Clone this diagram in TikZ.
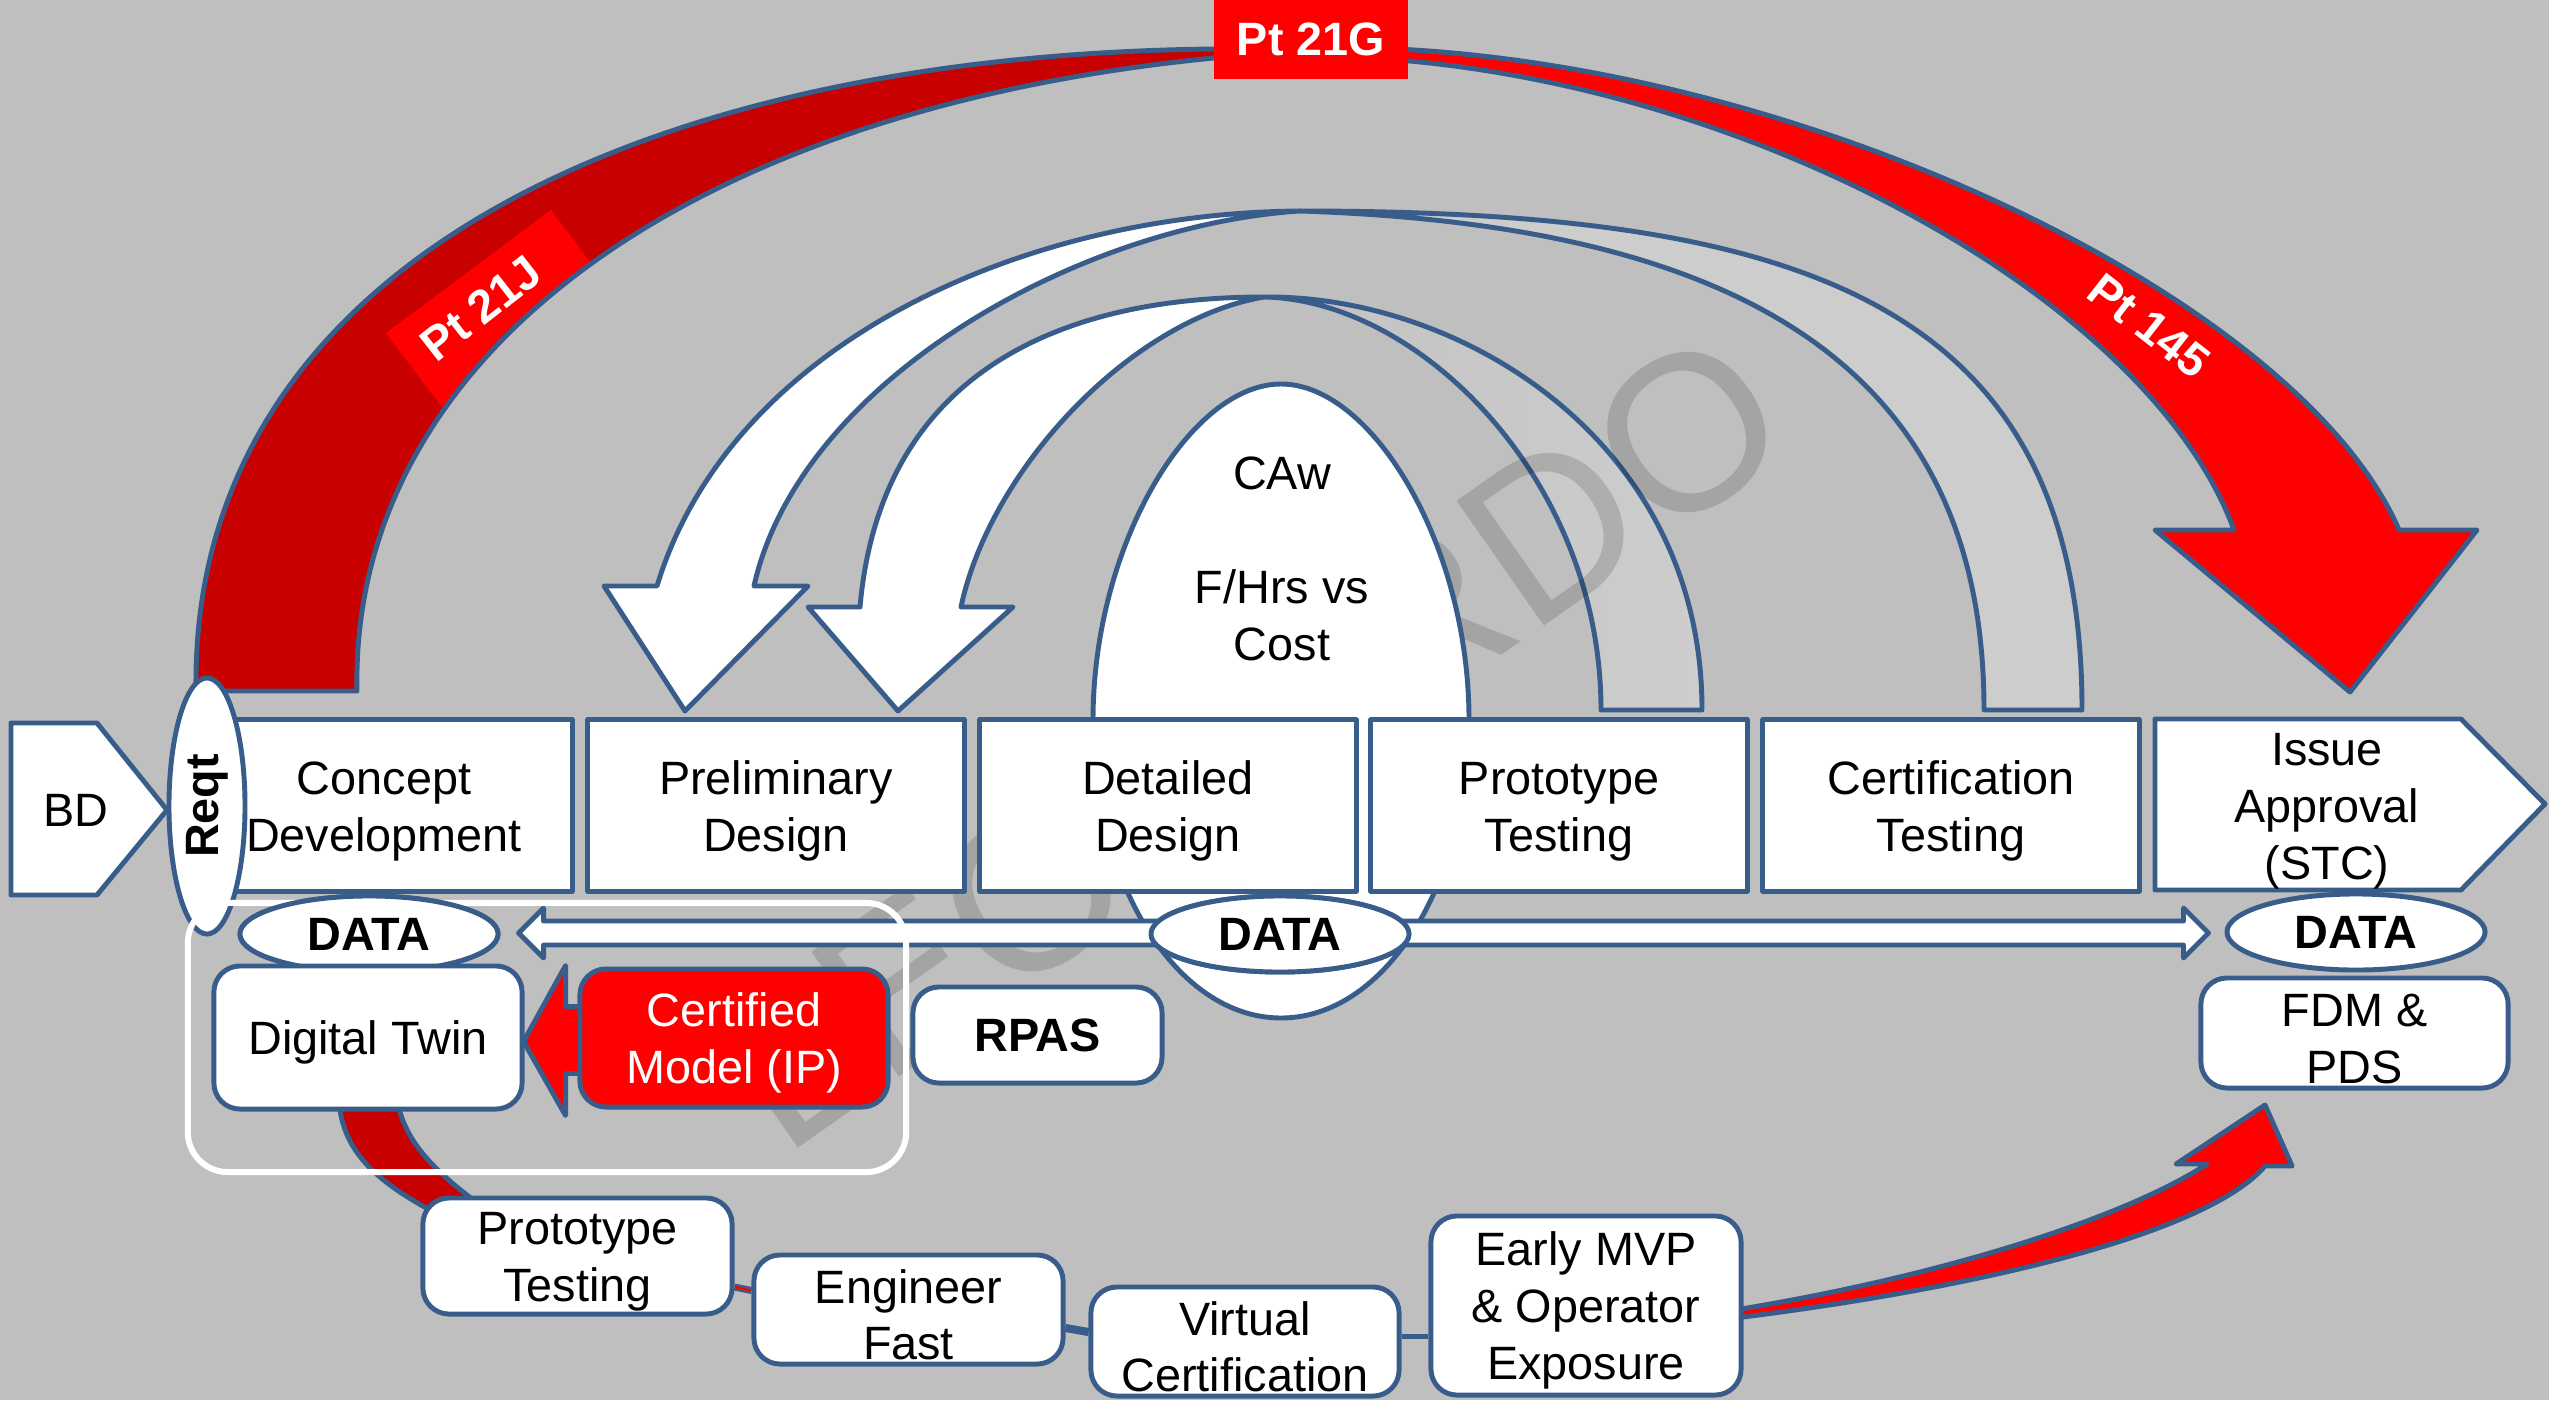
\documentclass[tikz,border=0pt]{standalone}
\usepackage{fontspec}
\setmainfont{Liberation Sans}
\usetikzlibrary{shapes.geometric,calc}
\definecolor{bgc}{HTML}{BFBFBF}
\definecolor{ln}{HTML}{385D8A}
\definecolor{dred}{HTML}{C80000}
\definecolor{bred}{HTML}{FF0000}
\definecolor{lgray}{HTML}{CDCDCD}
\definecolor{mgray}{HTML}{C2C2C2}
\newcommand\mystrut{\rule{0pt}{0.95em}}
\begin{document}
\begin{tikzpicture}[x=0.01cm,y=-0.01cm,
  every node/.style={font=\fontsize{13.3}{16.2}\selectfont},
  txt/.style={align=center, inner sep=0pt},
  bfont/.style={font=\fontsize{13.3}{16.2}\selectfont\bfseries},
  outl/.style={draw=ln, line width=1.4pt, line join=round},
  box/.style={txt, outl, fill=white},
  rbox/.style={box, rounded corners=0.26cm},
  dataell/.style={ellipse, outl, fill=white, inner sep=0pt, minimum width=2.58cm, minimum height=0.76cm, bfont}]

\useasboundingbox (0,0) rectangle (2549,1400);
\fill[bgc] (0,0) rectangle (2549,1400);

% ---- big red arc (Pt 21J / Pt 21G / Pt 145)
\def\bandL{(196,691) .. controls (190,260) and (650,55) .. (1214,49) -- (1260,48) -- (1260,57) -- (1214,58) .. controls (680,110) and (350,360) .. (357,691) -- cycle}
\fill[dred] \bandL;
\begin{scope}
\clip \bandL;
\fill[bred] (386,333) -- (551,210) -- (615,295) -- (450,418) -- cycle;
\end{scope}
\draw[outl] \bandL;
\draw[outl, fill=bred] (1370,48) .. controls (1800,60) and (2300,300) .. (2399,530) -- (2477,530) -- (2350,692) -- (2155,530) -- (2234,530) .. controls (2150,300) and (1750,80) .. (1370,58) -- cycle;
\node[fill=bred, minimum width=1.94cm, minimum height=0.79cm, inner sep=0pt, text=white, bfont] (pt21g) at (1311,39.5) {Pt 21G};
\node[text=white, bfont, rotate=38, inner sep=0pt] (pt21j) at (481,308) {Pt 21J};
\node[text=white, bfont, rotate=-38, inner sep=0pt] (pt145) at (2149,326) {Pt 145};

% ---- loop arrows
\draw[outl, fill=lgray] (2082,710) .. controls (2082,300) and (1800,211) .. (1300,211) .. controls (1730,225) and (1984,360) .. (1984,710) -- cycle;
\draw[outl, fill=white] (1300,211) .. controls (1020,213) and (730,345) .. (657,586) -- (604,586) -- (685,711) -- (808,586) -- (754,586) .. controls (800,380) and (1080,225) .. (1300,211) -- cycle;
\draw[outl, left color=mgray, right color=lgray] (1702,710) .. controls (1702,440) and (1460,295) .. (1264,297) .. controls (1420,300) and (1601,480) .. (1601,710) -- cycle;
\draw[outl, fill=white] (1264,297) .. controls (1050,297) and (880,380) .. (860,607) -- (808,607) -- (898,711) -- (1013,607) -- (961,607) .. controls (990,470) and (1130,320) .. (1264,297) -- cycle;

% ---- watermark
\node[rotate=35, anchor=base west, inner sep=0pt, text=black, text opacity=0.14, font=\fontsize{63}{63}\selectfont] (wm) at (783,1159) {LEONARDO};

% ---- CAw ellipse
\draw[outl, fill=white] (1093,720) .. controls (1093,545) and (1190,384) .. (1281,384) .. controls (1372,384) and (1469,545) .. (1469,720) .. controls (1469,884) and (1385,1018) .. (1281,1018) .. controls (1177,1018) and (1093,884) .. (1093,720) -- cycle;
\node[anchor=base] (caw) at (1282,489) {CAw};
\node[anchor=base] (fhrs) at (1282,603) {F/Hrs vs};
\node[anchor=base] (cost) at (1282,660) {Cost};

% ---- dark red band under the twin
\draw[outl, fill=dred] (339,1100) .. controls (342,1150) and (375,1180) .. (430,1210) -- (480,1205) .. controls (440,1175) and (405,1145) .. (397,1100) -- cycle;

% ---- main row
\draw[outl, fill=white] (11,723) -- (97,723) -- (167,810) -- (97,895) -- (11,895) -- cycle;
\node[txt] (bd) at (76,810) {BD};
\node[box, minimum width=3.76cm, minimum height=1.71cm] (concept) at (384,805.5) {\mystrut Concept\\Development};
\node[box, minimum width=3.76cm, minimum height=1.71cm] (prelim) at (776,805.5) {\mystrut Preliminary\\Design};
\node[box, minimum width=3.76cm, minimum height=1.71cm] (detail) at (1168,805.5) {\mystrut Detailed\\Design};
\node[box, minimum width=3.76cm, minimum height=1.71cm] (protot) at (1559,805.5) {\mystrut Prototype\\Testing};
\node[box, minimum width=3.76cm, minimum height=1.71cm] (certt) at (1951,805.5) {\mystrut Certification\\Testing};
\draw[outl, fill=white] (2155,719) -- (2461,719) -- (2545,804) -- (2461,890) -- (2155,890) -- cycle;
\node[txt] (issue) at (2327,805) {\mystrut Issue\\Approval\\(STC)};
\node[ellipse, rotate=90, outl, fill=white, minimum width=2.56cm, minimum height=0.76cm, inner sep=0pt, bfont] (reqt) at (207,806) {Reqt};

% ---- data ellipses and double arrow
\node[dataell] (dataL) at (369,934) {DATA};
\node[dataell] (dataM) at (1280,934) {DATA};
\node[dataell] (dataR) at (2356,932) {DATA};
\coordinate (tipL) at ($(dataL.east)+(18,-1)$);
\coordinate (tipR) at ($(dataR.west)+(-16,1)$);
\draw[outl, fill=white] (tipL) -- ++(25,-25) -- ++(0,13) -- ($(tipR)+(-25,-12)$) -- ++(0,-13) -- (tipR) -- ++(-25,25) -- ++(0,-13) -- ($(tipL)+(25,12)$) -- ++(0,13) -- cycle;
\node[draw=white, line width=1.7pt, rounded corners=0.4cm, minimum width=7.18cm, minimum height=2.69cm, inner sep=0pt] (grp) at (547,1037.5) {};
\node[dataell] at (dataL) {DATA};
\node[dataell] at (dataM) {DATA};

% ---- twin, certified model, RPAS, FDM
\node[rbox, minimum width=3.08cm, minimum height=1.43cm] (dt) at (368,1037.5) {\mystrut Digital Twin};
\draw[outl, fill=bred] ($(dt.east)+(-1,4)$) -- ++(42,-76) -- ++(0,41) -- ++(40,0) -- ++(0,67) -- ++(-40,0) -- ++(0,42) -- cycle;
\node[rbox, fill=bred, text=white, minimum width=3.08cm, minimum height=1.38cm] (cert) at (734,1038) {\mystrut Certified\\Model (IP)};
\node[rbox, bfont, minimum width=2.49cm, minimum height=0.96cm] (rpas) at (1037.5,1035) {RPAS};
\node[rbox, minimum width=3.07cm, minimum height=1.10cm] (fdm) at (2354.5,1033) {\mystrut FDM \&\\PDS};

% ---- bottom chain
\node[rbox, minimum width=3.09cm, minimum height=1.16cm] (ptb) at (577.5,1256) {\mystrut Prototype\\Testing};
\node[rbox, minimum width=3.09cm, minimum height=1.09cm] (efast) at (908.5,1309.5) {\mystrut Engineer\\Fast};
\node[rbox, minimum width=3.08cm, minimum height=1.09cm] (virt) at (1245,1341.5) {\mystrut Virtual\\Certification};
\draw[outl, fill=bred] (1735,1310) .. controls (1950,1275) and (2130,1215) .. (2207,1164) -- (2176,1164) -- (2265,1105) -- (2292,1166) -- (2265,1166) .. controls (2210,1230) and (2000,1285) .. (1735,1318) -- cycle;
\node[rbox, minimum width=3.10cm, minimum height=1.79cm] (mvp) at (1586,1305.5) {\mystrut Early MVP\\\& Operator\\Exposure};
\draw[ln, line width=2pt] ($(ptb.east)+(0,31)$) -- ($(efast.west)+(0,-19)$);
\draw[bred, line width=0.7pt] ($(ptb.east)+(1,31)$) -- ($(efast.west)+(-1,-19)$);
\draw[ln, line width=2.3pt] (efast.east|-1,1328) -- (virt.west|-1,1332);
\draw[ln, line width=1.6pt] (virt.east|-1,1336.5) -- (mvp.west|-1,1336.5);
\end{tikzpicture}
\end{document}
